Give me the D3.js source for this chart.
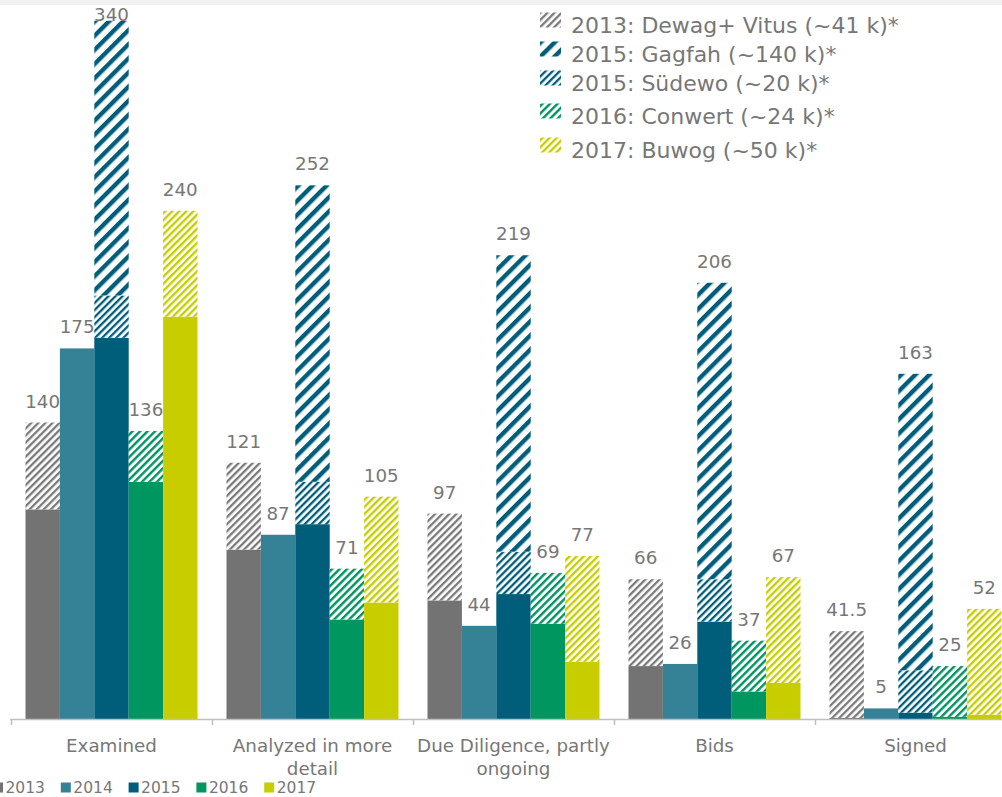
<!DOCTYPE html>
<html><head><meta charset="utf-8">
<script src="https://cdn.jsdelivr.net/npm/d3@7"></script>
<style>
html,body{margin:0;padding:0;background:#fff;}
svg{display:block;font-family:"DejaVu Sans",Verdana,sans-serif;}
</style></head><body>
<svg id="chart" width="1002" height="797"></svg>
<script>
// ---- data ----
const categories = ["Examined", "Analyzed in more detail", "Due Diligence, partly ongoing", "Bids", "Signed"];
const years = ["2013", "2014", "2015", "2016", "2017"];

// totals shown as labels
const total2013 = [140, 121, 97, 66, 41.5];
const total2014 = [175, 87, 44, 26, 5];
const total2015 = [340, 252, 219, 206, 163];
const total2016 = [136, 71, 69, 37, 25];
const total2017 = [240, 105, 77, 67, 52];

// stacked segments (organic part + acquisitions)
const solid2013 = [99, 80, 56, 25, 0.5];
const dewag2013 = [41, 41, 41, 41, 41];
const solid2014 = [175, 87, 44, 26, 5];
const solid2015 = [180, 92, 59, 46, 3];
const suedewo2015 = [20, 20, 20, 20, 20];
const gagfah2015 = [140, 140, 140, 140, 140];
const solid2016 = [112, 47, 45, 13, 1];
const conwert2016 = [24, 24, 24, 24, 24];
const solid2017 = [190, 55, 27, 17, 2];
const buwog2017 = [50, 50, 50, 50, 50];

const acquisitionLabels = ["2013: Dewag+ Vitus (~41 k)*", "2015: Gagfah (~140 k)*", "2015: Südewo (~20 k)*", "2016: Conwert (~24 k)*", "2017: Buwog (~50 k)*"];
const yTickMax = 340;

// ---- styles ----
const yearColors = {"2013": "#737373", "2014": "#358196", "2015": "#005e7a", "2016": "#00965f", "2017": "#c8cd00"};
const textColor = "#777777";

const svg = d3.select("#chart");
const defs = svg.append("defs");

const patterns = [
  {id: "p-dewag", color: "#7a7a7a", period: 5, stripe: 2.3},
  {id: "p-gagfah", color: "#005e7a", period: 10, stripe: 4.4},
  {id: "p-suedewo", color: "#005e7a", period: 5, stripe: 2.3},
  {id: "p-conwert", color: "#00965f", period: 5.3, stripe: 2.4},
  {id: "p-buwog", color: "#c8cd00", period: 5, stripe: 2.4}
];
patterns.forEach(p => {
  const pat = defs.append("pattern").attr("id", p.id)
    .attr("patternUnits", "userSpaceOnUse")
    .attr("width", p.period).attr("height", p.period)
    .attr("patternTransform", "rotate(45)");
  pat.append("rect").attr("width", p.period).attr("height", p.period).attr("fill", "#ffffff");
  pat.append("rect").attr("width", p.stripe).attr("height", p.period).attr("fill", p.color);
});

const seriesByYear = {
  "2013": {totals: total2013, segs: [{v: solid2013, fill: yearColors["2013"]}, {v: dewag2013, fill: "url(#p-dewag)"}]},
  "2014": {totals: total2014, segs: [{v: solid2014, fill: yearColors["2014"]}]},
  "2015": {totals: total2015, segs: [{v: solid2015, fill: yearColors["2015"]}, {v: suedewo2015, fill: "url(#p-suedewo)"}, {v: gagfah2015, fill: "url(#p-gagfah)"}]},
  "2016": {totals: total2016, segs: [{v: solid2016, fill: yearColors["2016"]}, {v: conwert2016, fill: "url(#p-conwert)"}]},
  "2017": {totals: total2017, segs: [{v: solid2017, fill: yearColors["2017"]}, {v: buwog2017, fill: "url(#p-buwog)"}]}
};

// ---- scales ----
const plotTop = 20.7, baseY = 719;
const x0 = d3.scaleBand().domain(categories).range([11, 1016]).paddingInner(0).paddingOuter(0);
const x1 = d3.scaleBand().domain(years).range([14.5, 186.5]).padding(0);
const y = d3.scaleLinear().domain([0, yTickMax]).range([baseY, -1]);

// top grey strip
svg.append("rect").attr("x", 0).attr("y", 0).attr("width", 1002).attr("height", 5).attr("fill", "#f2f2f2");

defs.append("clipPath").attr("id", "plotclip").append("rect")
  .attr("x", 0).attr("y", plotTop).attr("width", 1002).attr("height", baseY - plotTop);

const plot = svg.append("g").attr("clip-path", "url(#plotclip)");

years.forEach(yr => {
  const s = seriesByYear[yr];
  categories.forEach((c, i) => {
    let cum = 0;
    s.segs.forEach(seg => {
      const v = seg.v[i];
      plot.append("rect")
        .attr("x", x0(c) + x1(yr))
        .attr("width", x1.bandwidth())
        .attr("y", y(cum + v))
        .attr("height", y(cum) - y(cum + v))
        .attr("fill", seg.fill);
      cum += v;
    });
  });
});

// value labels
years.forEach(yr => {
  const s = seriesByYear[yr];
  categories.forEach((c, i) => {
    const t = s.totals[i];
    svg.append("text")
      .attr("x", x0(c) + x1(yr) + x1.bandwidth() / 2)
      .attr("y", Math.max(y(t) - 15, plotTop))
      .attr("text-anchor", "middle")
      .attr("font-size", 18.3).attr("fill", textColor)
      .text(String(t));
  });
});

// x axis
svg.append("line").attr("x1", 10).attr("x2", 1002).attr("y1", baseY + 0.5).attr("y2", baseY + 0.5)
  .attr("stroke", "#bfbfbf").attr("stroke-width", 1.5);
categories.forEach(c => {
  const tx = Math.round(x0(c)) + 0.5;
  svg.append("line").attr("x1", tx).attr("x2", tx).attr("y1", baseY).attr("y2", baseY + 6)
    .attr("stroke", "#bfbfbf").attr("stroke-width", 1.5);
});

// category labels with wrapping
function wrapLabel(textSel, str, maxW) {
  const words = str.split(" ");
  let line = [];
  let tspan = textSel.append("tspan").attr("x", textSel.attr("x")).attr("dy", 0);
  words.forEach(w => {
    line.push(w);
    tspan.text(line.join(" "));
    if (tspan.node().getComputedTextLength() > maxW && line.length > 1) {
      line.pop();
      tspan.text(line.join(" "));
      line = [w];
      tspan = textSel.append("tspan").attr("x", textSel.attr("x")).attr("dy", 23).text(w);
    }
  });
}
categories.forEach(c => {
  const t = svg.append("text")
    .attr("x", x0(c) + x0.bandwidth() / 2)
    .attr("y", 752)
    .attr("text-anchor", "middle")
    .attr("font-size", 18.3).attr("fill", textColor);
  wrapLabel(t, c, 200);
});

// top legend (acquisitions)
const legendFills = ["url(#p-dewag)", "url(#p-gagfah)", "url(#p-suedewo)", "url(#p-conwert)", "url(#p-buwog)"];
const legendBaselines = [33, 62, 91, 124, 158];
acquisitionLabels.forEach((lab, i) => {
  const by = legendBaselines[i];
  svg.append("rect").attr("x", 540).attr("y", by - 20.5).attr("width", 21).attr("height", 15)
    .attr("fill", legendFills[i]);
  svg.append("text").attr("x", 571).attr("y", by)
    .attr("font-size", 22).attr("fill", textColor).text(lab);
});

// bottom legend (years)
const bottomLegendStart = -7, bottomStep = 67.8;
years.forEach((yr, i) => {
  const lx = bottomLegendStart + i * bottomStep;
  svg.append("rect").attr("x", lx).attr("y", 782.5).attr("width", 10).attr("height", 10)
    .attr("fill", yearColors[yr]);
  svg.append("text").attr("x", lx + 12.5).attr("y", 792.5)
    .attr("font-size", 15.5).attr("fill", textColor).text(yr);
});
</script>
</body></html>
